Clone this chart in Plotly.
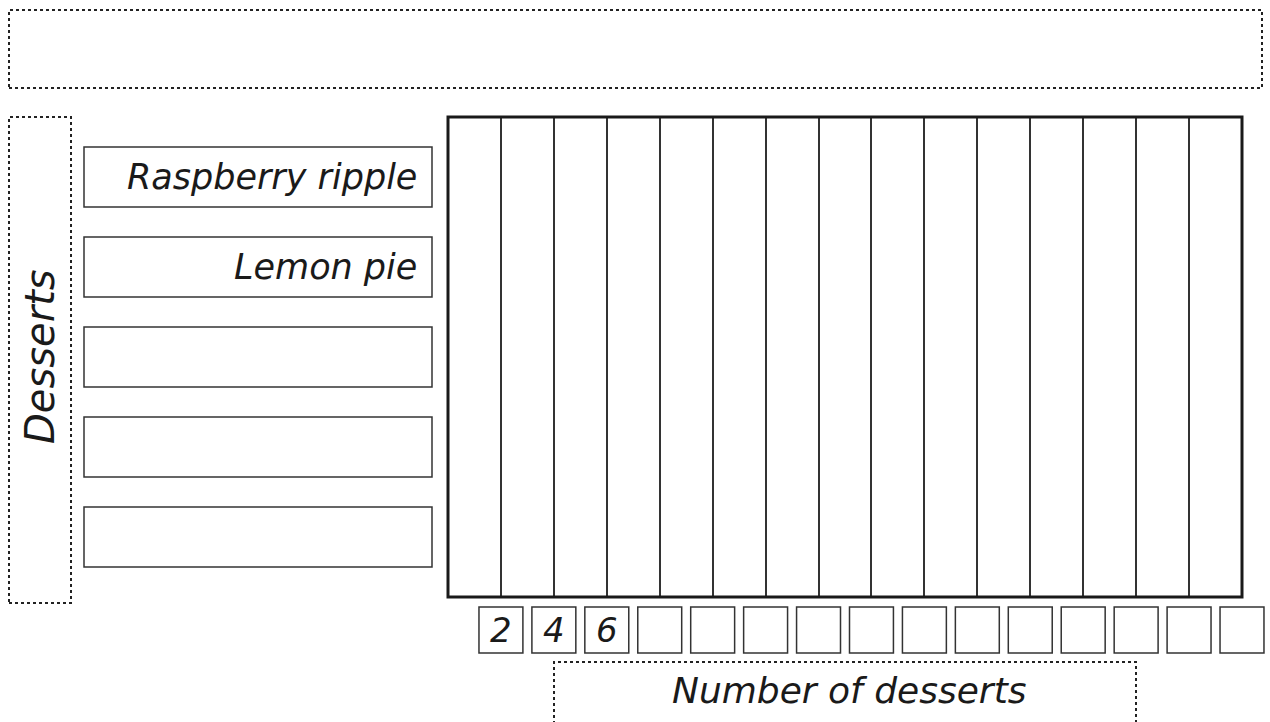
import plotly.graph_objects as go

# ---- data ----
desserts = ["Raspberry ripple", "Lemon pie", "", "", ""]
dessert_pos = [14, 11, 8, 5, 2]
counts = [0, 0, 0, 0, 0]  # blank worksheet, nothing filled in yet
tick_values = [2, 4, 6, 8, 10, 12, 14, 16, 18, 20, 22, 24, 26, 28, 30]
tick_labels = ["2", "4", "6", "", "", "", "", "", "", "", "", "", "", "", ""]
chart_title = ""
x_title = "Number of desserts"
y_title = "Desserts"

W, H = 1270, 722
FONT = dict(family="DejaVu Sans, Noto Sans, sans-serif", color="#1a1a1a", style="italic")

# plot box in pixels
PL, PR, PT, PB = 448, 1242, 117, 597
X_MAX = 30


def px(x):
    return x / W


def py(y):
    return 1 - y / H


fig = go.Figure()
fig.add_trace(go.Bar(y=dessert_pos, x=counts, orientation="h",
                     marker_color="rgba(0,0,0,0)", hoverinfo="skip", showlegend=False))

shapes = []
annots = []
mid = dict(xanchor="center", yanchor="middle", showarrow=False)

# title box (dotted)
shapes.append(dict(type="rect", xref="paper", yref="paper",
                   x0=px(9), x1=px(1262), y0=py(88), y1=py(10),
                   line=dict(color="#222", width=2, dash="dot")))
annots.append(dict(mid, xref="paper", yref="paper", x=px(635), y=py(49), text=chart_title,
                   font=dict(FONT, size=30)))

# y-axis title box
shapes.append(dict(type="rect", xref="paper", yref="paper",
                   x0=px(9), x1=px(71), y0=py(603), y1=py(117),
                   line=dict(color="#222", width=2, dash="dot")))
annots.append(dict(mid, xref="paper", yref="paper", x=px(40), y=py(357), text=y_title,
                   textangle=-90, font=dict(FONT, size=40)))

# x-axis title box
shapes.append(dict(type="rect", xref="paper", yref="paper",
                   x0=px(554), x1=px(1136), y0=py(735), y1=py(662),
                   line=dict(color="#222", width=2, dash="dot")))
annots.append(dict(mid, xref="paper", yref="paper", x=px(849), y=py(690), text=x_title,
                   font=dict(FONT, size=36)))

# category label boxes
for name, pos in zip(desserts, dessert_pos):
    shapes.append(dict(type="rect", xref="paper", yref="y",
                       x0=px(84), x1=px(432), y0=pos - 1, y1=pos + 1,
                       line=dict(color="#333", width=1.5), fillcolor="white"))
    annots.append(dict(xref="paper", yref="y", x=px(419), y=pos, text=name,
                       xanchor="right", yanchor="middle", showarrow=False,
                       font=dict(FONT, size=35)))

# tick label boxes: drawn on a second, hidden x axis with the same scale but a wider
# domain, so the last box is not clipped at the plot edge
for v, lab in zip(tick_values, tick_labels):
    shapes.append(dict(type="rect", xref="x2", yref="paper",
                       x0=v - 0.83, x1=v + 0.83, y0=py(653), y1=py(607),
                       line=dict(color="#333", width=1.5)))
    annots.append(dict(mid, xref="x2", yref="paper", x=v, y=py(630), text=lab,
                       font=dict(FONT, size=34)))

# thick plot border
shapes.append(dict(type="rect", xref="paper", yref="paper",
                   x0=px(PL), x1=px(PR), y0=py(PB), y1=py(PT),
                   line=dict(color="#1a1a1a", width=3)))

unit = (PR - PL) / X_MAX
fig.update_layout(
    width=W, height=H,
    margin=dict(l=0, r=0, t=0, b=0),
    paper_bgcolor="white", plot_bgcolor="rgba(0,0,0,0)",
    shapes=shapes, annotations=annots,
    xaxis=dict(domain=[px(PL), px(PR)], range=[0, X_MAX], tickvals=tick_values,
               showticklabels=False, showgrid=True, gridcolor="#333", gridwidth=2,
               zeroline=False, showline=False, fixedrange=True),
    xaxis2=dict(domain=[px(PL), 1], range=[0, (W - PL) / unit], anchor="free",
                position=0, visible=False, showgrid=False, fixedrange=True),
    yaxis=dict(domain=[py(PB), py(PT)], range=[0, 16], showticklabels=False,
               showgrid=False, zeroline=False, showline=False, fixedrange=True),
)

fig.write_html("out.html", config={"displayModeBar": False},
               post_script="document.body.style.margin='0';")
